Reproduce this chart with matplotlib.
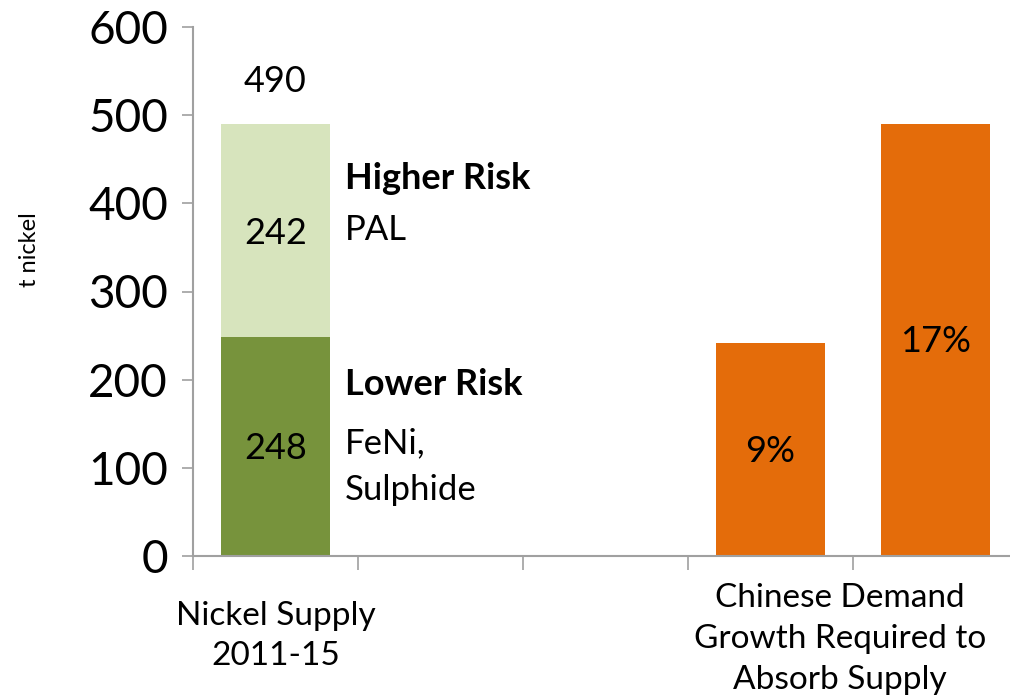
import numpy as np
import matplotlib.pyplot as plt

plt.rcParams['font.family'] = ['Lato', 'DejaVu Sans']

# data
positions = [0, 3, 4]
lower_risk = [248]
higher_risk = [242]
demand = [242, 490]
demand_labels = ['9%', '17%']
demand_label_y = [118, 243]
yticks = [0, 100, 200, 300, 400, 500, 600]

dark_green = '#77933C'
light_green = '#D7E4BD'
orange = '#E46C0A'
grey = '#A0A0A0'

fig = plt.figure(figsize=(10.1, 7.0), dpi=100)
ax = fig.add_axes([193 / 1010, 144 / 700, 825 / 1010, 529 / 700])

w = 0.655
ax.bar(positions[0], lower_risk, width=w, color=dark_green)
ax.bar(positions[0], higher_risk, width=w, bottom=lower_risk, color=light_green)
ax.bar(positions[1:], demand, width=w, color=orange)

total = lower_risk[0] + higher_risk[0]
ax.text(positions[0], 538, str(total), ha='center', va='center', fontsize=26)
ax.text(positions[0], 366, str(higher_risk[0]), ha='center', va='center', fontsize=26)
ax.text(positions[0], 122, str(lower_risk[0]), ha='center', va='center', fontsize=26)
for x, y, lab in zip(positions[1:], demand_label_y, demand_labels):
    ax.text(x, y, lab, ha='center', va='center', fontsize=26)

# side annotations
ax.text(0.42, 428, 'Higher Risk', ha='left', va='center', fontsize=26, fontweight='bold')
ax.text(0.42, 370, 'PAL', ha='left', va='center', fontsize=25)
ax.text(0.42, 195, 'Lower Risk', ha='left', va='center', fontsize=26, fontweight='bold')
ax.text(0.42, 128, 'FeNi,', ha='left', va='center', fontsize=25)
ax.text(0.42, 75, 'Sulphide', ha='left', va='center', fontsize=25)

ax.set_xlim(-0.5, 4.5)
ax.set_ylim(0, 600)
ax.set_yticks(yticks)
ax.set_xticks(np.arange(-0.5, 4.6, 1))
ax.set_xticklabels([])
ax.tick_params(axis='y', labelsize=33, length=8, width=1.2, color=grey, pad=10)
ax.tick_params(axis='x', length=10, width=1.2, color=grey)
for s in ['top', 'right']:
    ax.spines[s].set_visible(False)
for s in ['left', 'bottom']:
    ax.spines[s].set_color(grey)
    ax.spines[s].set_linewidth(1.5)

fig.text(30 / 1010, 1 - 250 / 700, 't nickel', rotation=90, ha='center', va='center', fontsize=17)
fig.text(276 / 1010, 1 - 636 / 700, 'Nickel Supply\n2011-15', ha='center', va='center',
         fontsize=24, linespacing=1.45)
fig.text(840 / 1010, 1 - 639 / 700, 'Chinese Demand\nGrowth Required to\nAbsorb Supply',
         ha='center', va='center', fontsize=24, linespacing=1.45)

fig.savefig('out.png', dpi=100)
